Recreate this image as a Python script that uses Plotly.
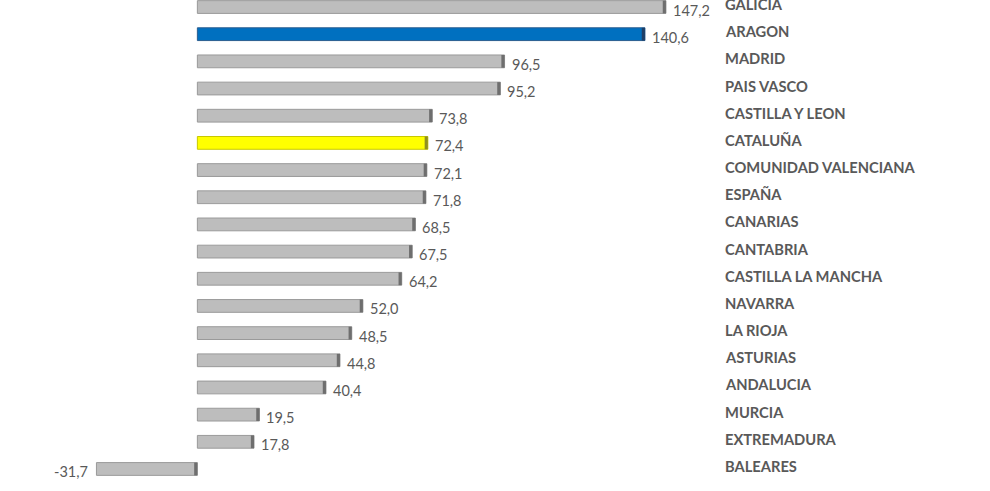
import plotly.graph_objects as go

regions = ["GALICIA", "ARAGON", "MADRID", "PAIS VASCO", "CASTILLA Y LEON", "CATALUÑA",
           "COMUNIDAD VALENCIANA", "ESPAÑA", "CANARIAS", "CANTABRIA", "CASTILLA LA MANCHA",
           "NAVARRA", "LA RIOJA", "ASTURIAS", "ANDALUCIA", "MURCIA", "EXTREMADURA", "BALEARES"]
values = [147.2, 140.6, 96.5, 95.2, 73.8, 72.4, 72.1, 71.8, 68.5, 67.5, 64.2,
          52.0, 48.5, 44.8, 40.4, 19.5, 17.8, -31.7]
value_labels = ["147,2", "140,6", "96,5", "95,2", "73,8", "72,4", "72,1", "71,8", "68,5",
                "67,5", "64,2", "52,0", "48,5", "44,8", "40,4", "19,5", "17,8", "-31,7"]

def bar_color(r):
    if r == "ARAGON":
        return "#0070C0"
    if r == "CATALUÑA":
        return "#FFFF00"
    return "#BDBDBD"

def edge_color(r):
    if r == "ARAGON":
        return "#2A5D8F"
    if r == "CATALUÑA":
        return "#C8C800"
    return "#9A9A9A"

def cap_color(r):
    if r == "ARAGON":
        return "#1F3F66"
    if r == "CATALUÑA":
        return "#8F8F20"
    return "#6E6E6E"

idx = list(range(len(regions)))
cap_w = 1.0

fig = go.Figure()
fig.add_trace(go.Bar(
    x=values, y=idx, orientation="h", width=0.47,
    marker=dict(color=[bar_color(r) for r in regions],
                line=dict(color=[edge_color(r) for r in regions], width=1)),
    hoverinfo="skip",
))
fig.add_trace(go.Bar(
    x=[cap_w] * len(values), base=[max(v, 0) - cap_w for v in values], y=idx,
    orientation="h", width=0.47,
    marker=dict(color=[cap_color(r) for r in regions], line=dict(width=0)),
    hoverinfo="skip",
))

label_x = 166
for i, (r, v, t) in enumerate(zip(regions, values, value_labels)):
    fig.add_annotation(x=label_x, y=i, text=f"<b>{r}</b>", showarrow=False,
                       xanchor="left", yanchor="middle", yshift=3, xshift=-3,
                       font=dict(family="Lato", size=14.7, color="#595959"))
    fig.add_annotation(x=v, y=i, text=t, showarrow=False,
                       xanchor="left" if v >= 0 else "right", yanchor="middle",
                       xshift=5 if v >= 0 else -6, yshift=-3,
                       font=dict(family="Lato", size=14.5, color="#595959"))

fig.update_layout(
    width=990, height=491, margin=dict(l=0, r=0, t=0, b=0),
    paper_bgcolor="white", plot_bgcolor="white", showlegend=False, barmode="overlay",
    xaxis=dict(range=[-62, 249], visible=False, fixedrange=True),
    yaxis=dict(range=[17.81, -0.258], visible=False, fixedrange=True),
)
fig.write_html("out.html")
